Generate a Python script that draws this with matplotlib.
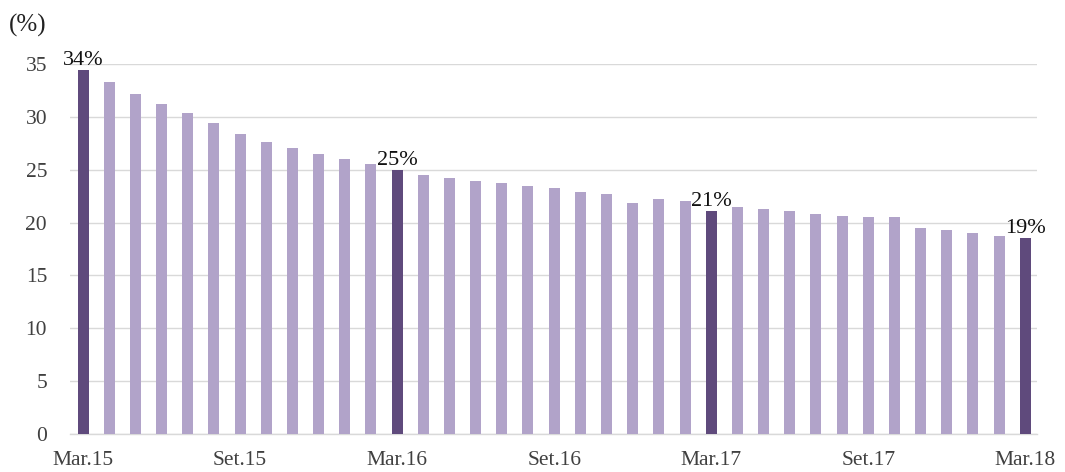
import matplotlib
matplotlib.use("Agg")
import matplotlib.pyplot as plt
import numpy as np

# ---- data ----
months = ["Mar.15", "Apr.15", "May.15", "Jun.15", "Jul.15", "Aug.15", "Set.15", "Oct.15", "Nov.15", "Dec.15",
          "Jan.16", "Feb.16", "Mar.16", "Apr.16", "May.16", "Jun.16", "Jul.16", "Aug.16", "Set.16", "Oct.16",
          "Nov.16", "Dec.16", "Jan.17", "Feb.17", "Mar.17", "Apr.17", "May.17", "Jun.17", "Jul.17", "Aug.17",
          "Set.17", "Oct.17", "Nov.17", "Dec.17", "Jan.18", "Feb.18", "Mar.18"]
values = [34.4, 33.3, 32.2, 31.2, 30.4, 29.4, 28.35, 27.65, 27.05, 26.5, 26.0, 25.5,
          25.0, 24.5, 24.2, 23.9, 23.7, 23.5, 23.3, 22.9, 22.7, 21.85, 22.25, 22.0,
          21.1, 21.5, 21.25, 21.05, 20.85, 20.6, 20.5, 20.5, 19.5, 19.3, 19.05, 18.7, 18.5]
highlight = ["Mar.15", "Mar.16", "Mar.17", "Mar.18"]
highlight_labels = ["34%", "25%", "21%", "19%"]
tick_labels = ["Mar.15", "Set.15", "Mar.16", "Set.16", "Mar.17", "Set.17", "Mar.18"]
yticks = [0, 5, 10, 15, 20, 25, 30, 35]

dark = "#5f4a7c"
light = "#b1a3c9"

plt.rcParams['font.family'] = ['Liberation Serif', 'DejaVu Serif']

fig = plt.figure(figsize=(10.65, 4.72), dpi=100)
ax = fig.add_axes([70/1065, 1-434/472, (1037-70)/1065, (434-64)/472])

x = np.arange(len(months))
colors = [dark if m in highlight else light for m in months]
ax.bar(x, values, width=0.42, color=colors, zorder=3)

for m, lab in zip(highlight, highlight_labels):
    i = months.index(m)
    ax.annotate(lab, (x[i], values[i]), xytext=(0, 0), textcoords="offset points",
                ha="center", va="bottom", fontsize=16, color="#111111", zorder=4)

ax.set_xlim(-0.5, 36.45)
ax.set_ylim(0, 35)
ax.set_yticks(yticks)
ax.set_yticklabels([str(v) for v in yticks], fontsize=15.5, color="#404040")
ax.set_xticks([months.index(t) for t in tick_labels])
ax.set_xticklabels(tick_labels, fontsize=15.5, color="#404040")
ax.tick_params(axis="both", length=0)
ax.tick_params(axis="x", pad=12)
ax.tick_params(axis="y", pad=16.5)
ax.grid(axis="y", color="#d9d9d9", linewidth=1, zorder=0)
for s in ["top", "right", "left"]:
    ax.spines[s].set_visible(False)
ax.spines["bottom"].set_color("#d9d9d9")
ax.spines["bottom"].set_linewidth(1)

fig.text(9/1065, 1-25/472, "(%)", fontsize=18, color="#222222", ha="left", va="center")

fig.savefig("out.png", dpi=100)
